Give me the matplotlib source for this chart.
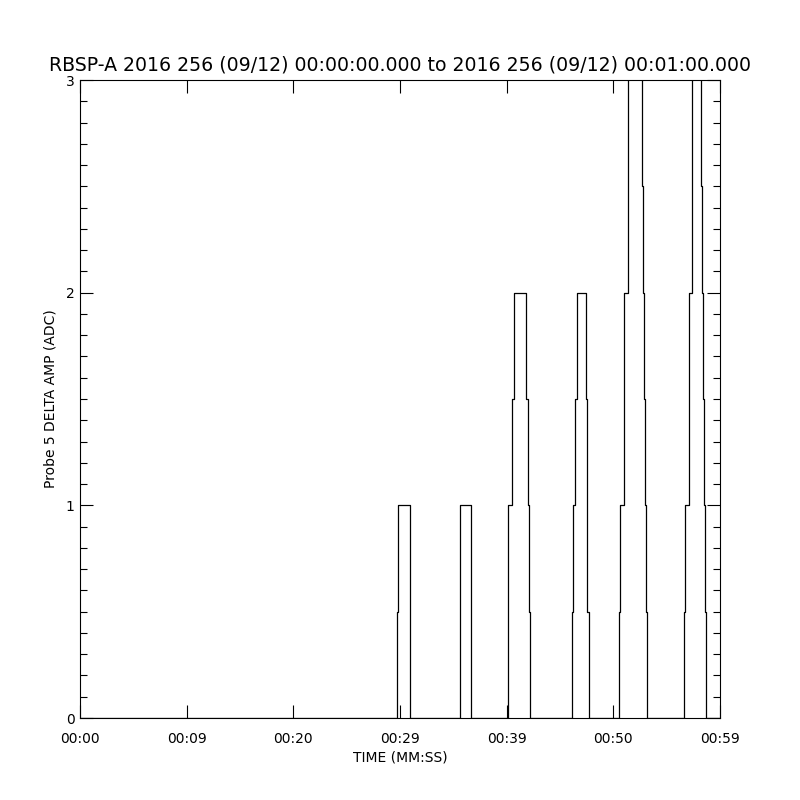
import matplotlib
matplotlib.use('Agg')
import matplotlib.pyplot as plt
import numpy as np
from matplotlib.ticker import MultipleLocator

# step edges (seconds after 00:00:00) and the level held from each edge to the next
t_edges = [0, 29.75, 29.83, 30.97, 35.65, 36.63,
           40.13, 40.53, 40.66, 41.84, 41.97, 42.09, 42.19,
           46.13, 46.19, 46.38, 46.57, 47.41, 47.50, 47.56, 47.69,
           50.56, 50.63, 51.03, 51.40, 52.72, 52.81, 52.88, 52.97, 53.06, 53.18,
           56.63, 56.75, 57.09, 57.40, 58.25, 58.34, 58.41, 58.50, 58.62, 58.72, 60]
levels = [0, 0.5, 1, 0, 1, 0,
          1, 1.5, 2, 1.5, 1, 0.5, 0,
          0.5, 1, 1.5, 2, 1.5, 1, 0.5, 0,
          0.5, 1, 2, 4, 2.5, 2, 1.5, 1, 0.5, 0,
          0.5, 1, 2, 4, 2.5, 2, 1.5, 1, 0.5, 0, 0]

x_ticks = [0, 10, 20, 30, 40, 50, 60]
x_tick_labels = ['00:00', '00:09', '00:20', '00:29', '00:39', '00:50', '00:59']
y_ticks = [0, 1, 2, 3]

title = 'RBSP-A 2016 256 (09/12) 00:00:00.000 to 2016 256 (09/12) 00:01:00.000'

plt.rcParams['font.family'] = ['DejaVu Sans']

fig = plt.figure(figsize=(8, 8), dpi=100)
ax = fig.add_axes([0.1, 0.1025, 0.8, 0.7975])

ax.step(t_edges, levels, where='post', color='black', linewidth=0.9)

ax.set_xlim(0, 60)
ax.set_ylim(0, 3)
ax.set_xticks(x_ticks)
ax.set_xticklabels(x_tick_labels)
ax.set_yticks(y_ticks)
ax.yaxis.set_minor_locator(MultipleLocator(0.1))

ax.tick_params(axis='both', which='both', direction='in', top=True, right=True,
               width=0.8, colors='black', labelsize=10)
ax.tick_params(axis='both', which='major', length=9.5)
ax.tick_params(axis='y', which='minor', length=5)
ax.tick_params(axis='x', which='major', pad=10)
ax.tick_params(axis='y', which='major', pad=4)

for s in ax.spines.values():
    s.set_linewidth(0.8)

ax.set_xlabel('TIME (MM:SS)', fontsize=10, labelpad=3)
ax.set_ylabel('Probe 5 DELTA AMP (ADC)', fontsize=10, labelpad=6)
ax.set_title(title, fontsize=13.6, pad=7)

fig.savefig('out.png', dpi=100)
